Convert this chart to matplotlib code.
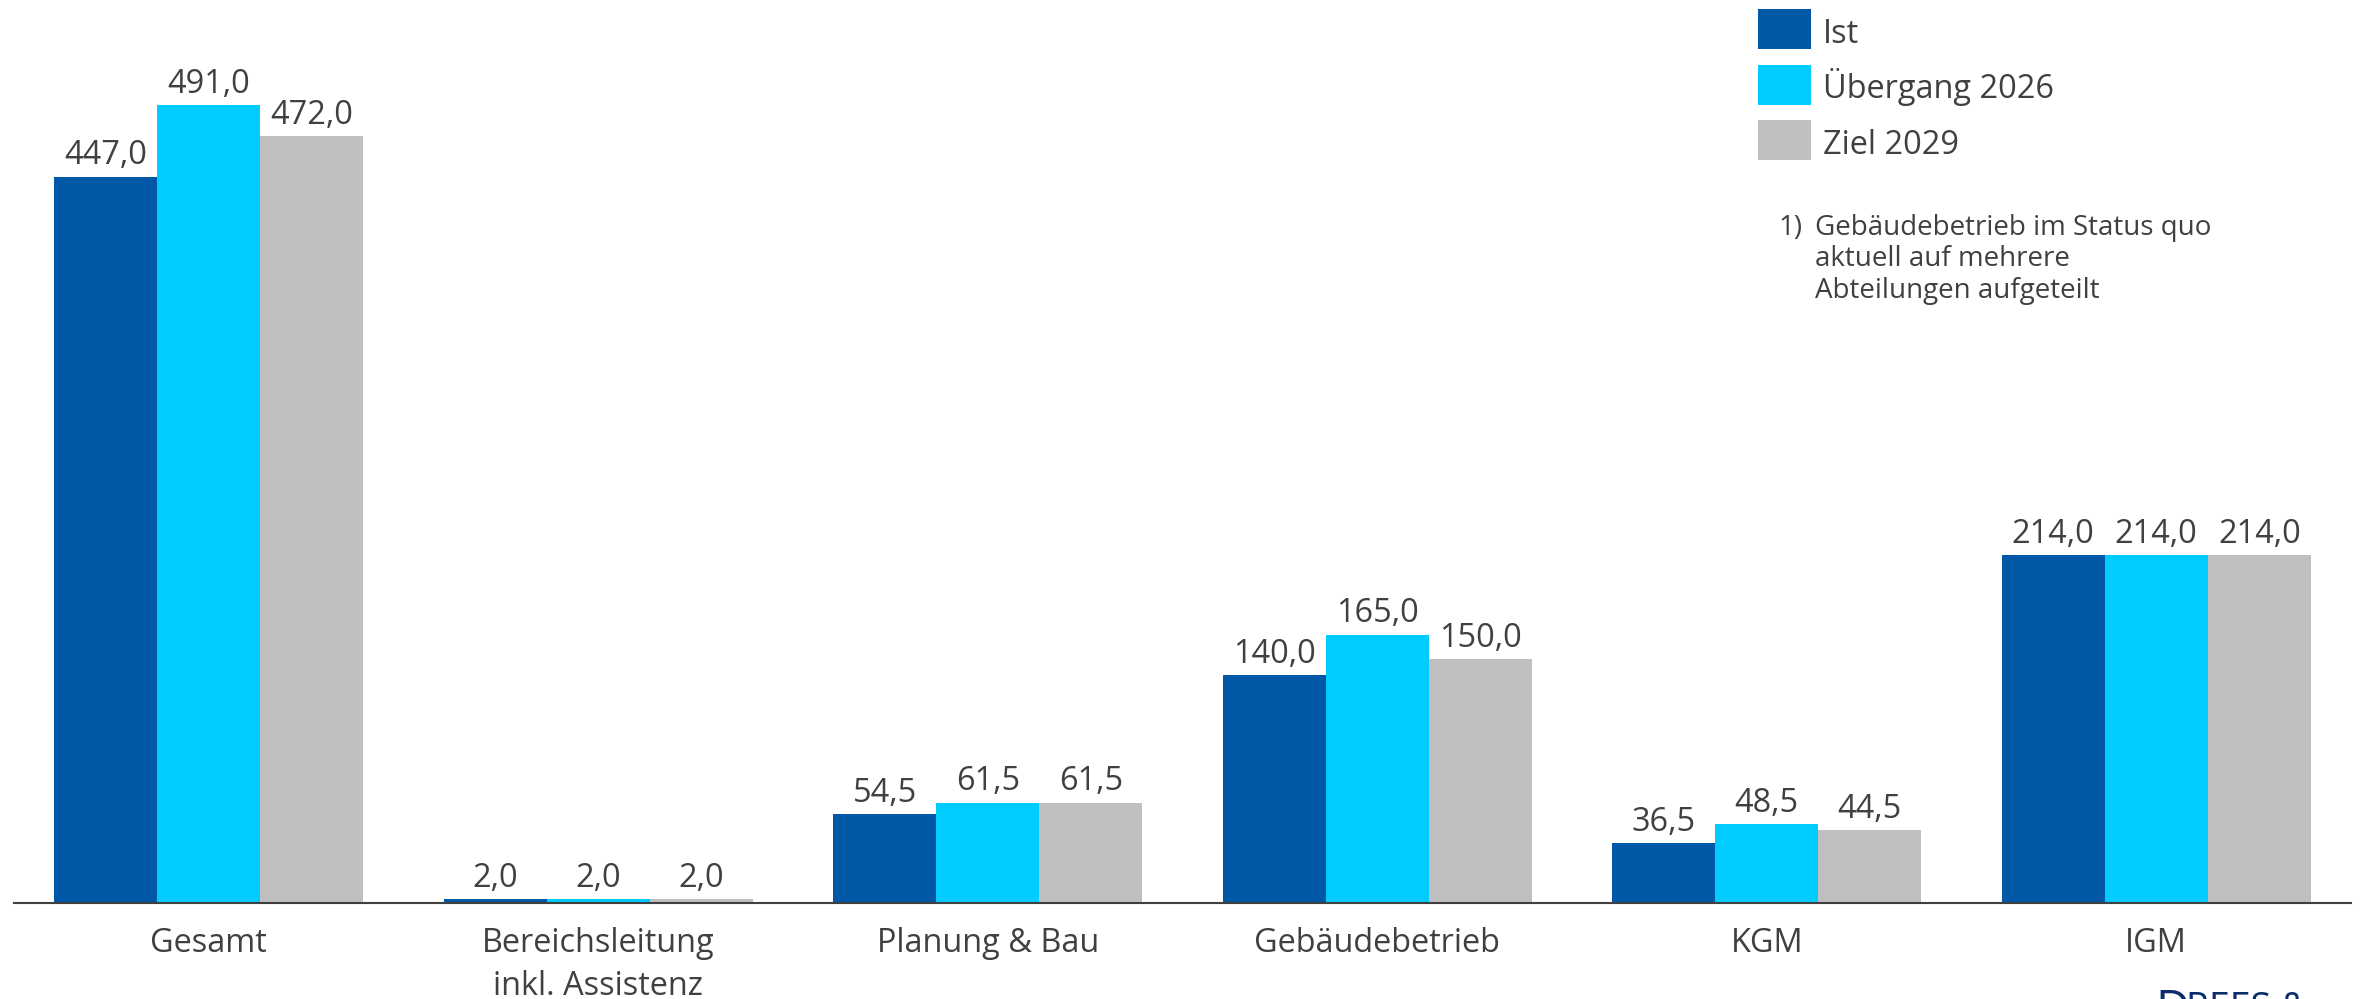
import matplotlib.pyplot as plt
from matplotlib.patches import Rectangle
import numpy as np

plt.rcParams['font.family'] = ['Open Sans', 'DejaVu Sans']

# data
categories = ['Gesamt', 'Bereichsleitung\ninkl. Assistenz', 'Planung & Bau',
              'Gebäudebetrieb', 'KGM', 'IGM']
ist = [447.0, 2.0, 54.5, 140.0, 36.5, 214.0]
uebergang = [491.0, 2.0, 61.5, 165.0, 48.5, 214.0]
ziel = [472.0, 2.0, 61.5, 150.0, 44.5, 214.0]
series_names = ['Ist', 'Übergang 2026', 'Ziel 2029']
colors = ['#0058A6', '#00CCFF', '#BFBFBF']
footnote = ['Gebäudebetrieb im Status quo', 'aktuell auf mehrere', 'Abteilungen aufgeteilt']

W, H = 2362, 999
txt = '#404040'


def fx(px):
    return px / W


def fy(py):
    # pixel row from top -> figure fraction
    return 1 - py / H


fig = plt.figure(figsize=(W / 100, H / 100), dpi=100)
ax = fig.add_axes([fx(14), fy(902.5), fx(2351 - 14), 902.5 / H])

x = np.arange(len(categories))
bw = 0.2646
for i, (vals, c) in enumerate(zip([ist, uebergang, ziel], colors)):
    b = ax.bar(x + (i - 1) * bw, vals, bw, color=c, zorder=2)
    for rect, v in zip(b, vals):
        ax.annotate(f'{v:.1f}'.replace('.', ','),
                    (rect.get_x() + rect.get_width() / 2, rect.get_height()),
                    xytext=(0, 3), textcoords='offset points',
                    ha='center', va='bottom', fontsize=23.4, color=txt)

ax.set_xlim(-0.5, 5.5)
ax.set_ylim(0, 902.5 / 1.624)
for s in ['top', 'right', 'left']:
    ax.spines[s].set_visible(False)
ax.spines['bottom'].set_color('#404040')
ax.spines['bottom'].set_linewidth(1.5)
ax.spines['bottom'].set_zorder(3)
ax.set_yticks([])
ax.set_xticks(x)
ax.set_xticklabels(categories, fontsize=23.4, color=txt, linespacing=1.4)
ax.tick_params(axis='x', length=0, pad=17.5)

# legend (drawn by hand to match spacing)
for i, (name, c) in enumerate(zip(series_names, colors)):
    top = 9 + 55.5 * i
    fig.add_artist(Rectangle((fx(1758), fy(top + 40)), fx(53), 40 / H,
                             transform=fig.transFigure, color=c, lw=0))
    fig.text(fx(1823), fy(top + 34), name, fontsize=23.4, color=txt,
             va='baseline')

# footnote
fig.text(fx(1778), fy(235), '1)', fontsize=20, color=txt, va='baseline')
for k, line in enumerate(footnote):
    fig.text(fx(1815), fy(235 + 31.5 * k), line, fontsize=20,
             color=txt, va='baseline')

# logo fragment at bottom right (clipped by figure edge, as in the source)
fig.text(fx(2155), fy(988), 'D', fontsize=34, color='#0B2D6B', va='top')
fig.text(fx(2186), fy(991), 'REES &', fontsize=27, color='#0B2D6B', va='top')

fig.savefig('out.png', dpi=100)
